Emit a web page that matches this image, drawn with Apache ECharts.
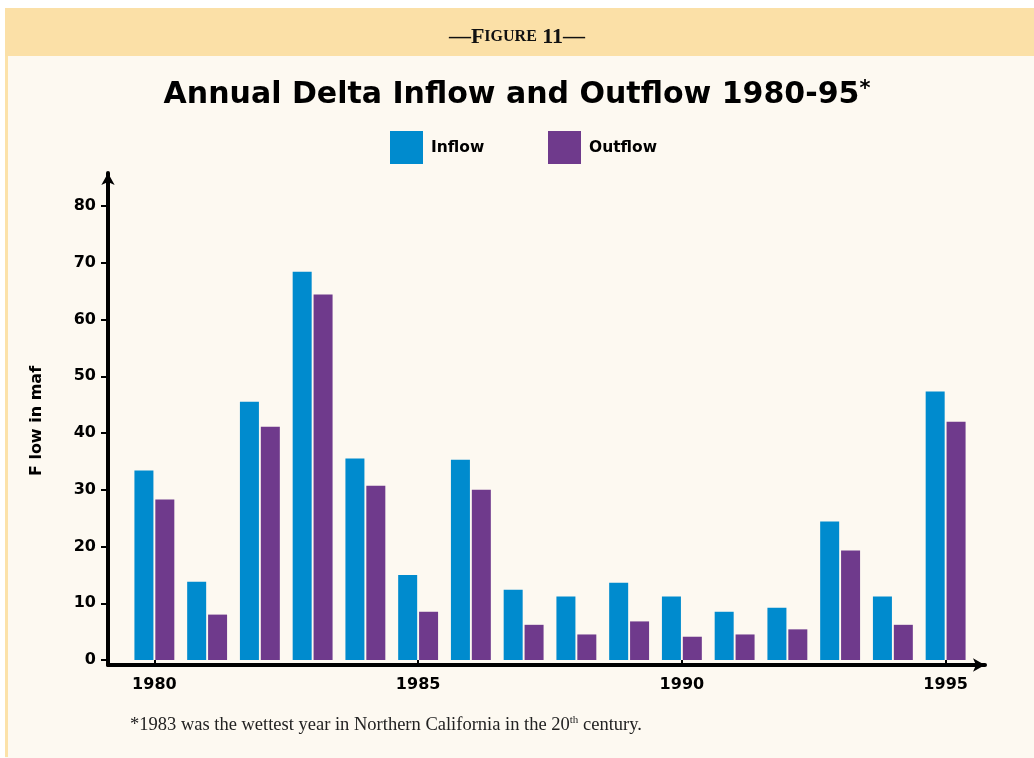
<!DOCTYPE html>
<html>
<head>
<meta charset="utf-8">
<title>Annual Delta Inflow and Outflow 1980-95</title>
<script src="https://cdn.jsdelivr.net/npm/echarts@6/dist/echarts.min.js"></script>
<style>
  html, body { margin: 0; padding: 0; background: #fff; }
  #main { width: 1034px; height: 758px; }
</style>
</head>
<body>
<div id="main"></div>
<script>
// data (million acre-feet)
const years = ['1980', '1981', '1982', '1983', '1984', '1985', '1986', '1987',
  '1988', '1989', '1990', '1991', '1992', '1993', '1994', '1995'];
const inflow = [33.4, 13.8, 45.5, 68.4, 35.5, 15.0, 35.3, 12.4,
  11.2, 13.6, 11.2, 8.5, 9.2, 24.4, 11.2, 47.3];
const outflow = [28.3, 8.0, 41.1, 64.4, 30.7, 8.5, 30.0, 6.2,
  4.5, 6.8, 4.1, 4.5, 5.4, 19.3, 6.2, 42.0];
const yMin = 0;
const yMax = 80;
const yStep = 10;

const BLUE = '#008bce';
const PURPLE = '#6f3a8c';
const HEAVY = '"DejaVu Sans", "Liberation Sans", sans-serif';
const SERIF = '"Liberation Serif", "DejaVu Serif", serif';

// 初始化
const myChart = echarts.init(document.getElementById('main'));

const legendText = { fontFamily: HEAVY, fontWeight: 'bold', fontSize: 15.5, color: '#000', padding: [0, 0, 0, 3] };

const option = {
  animation: false,
  backgroundColor: '#ffffff',
  graphic: [
    // panel background
    { type: 'rect', z: -10, shape: { x: 5, y: 8, width: 1029, height: 48 }, style: { fill: '#fbe0a7' } },
    { type: 'rect', z: -10, shape: { x: 5, y: 56, width: 1029, height: 702 }, style: { fill: '#fdf9f1' } },
    { type: 'rect', z: -9, shape: { x: 5, y: 56, width: 3, height: 701 }, style: { fill: '#fce2a9' } },
    // y axis name
    {
      type: 'text', x: 37, y: 421, rotation: Math.PI / 2,
      style: {
        text: 'F low in maf', fill: '#000', font: 'bold 16px ' + HEAVY,
        textAlign: 'center', textVerticalAlign: 'middle'
      }
    },
    // footnote
    {
      type: 'text', x: 130, y: 725,
      style: {
        text: '{n|*1983 was the wettest year in Northern California in the 20}{s|th}{n| century.}',
        textVerticalAlign: 'middle',
        rich: {
          n: { fontFamily: SERIF, fontSize: 18.5, fill: '#222', color: '#222' },
          s: { fontFamily: SERIF, fontSize: 11, fill: '#222', color: '#222', verticalAlign: 'top', padding: [0, 0, 9, 0] }
        }
      }
    }
  ],
  title: [
    {
      text: '{d|—}{b|F}{s|IGURE}{b| 11}{d|—}',
      left: 'center', top: 21,
      textStyle: {
        rich: {
          d: { fontFamily: SERIF, fontSize: 22, color: '#111' },
          b: { fontFamily: SERIF, fontSize: 22, color: '#111' },
          s: { fontFamily: SERIF, fontSize: 16, color: '#111' }
        }
      }
    },
    {
      text: '{t|Annual Delta Inflow and Outflow 1980-95}{a|*}',
      left: 'center', top: 74,
      textStyle: {
        rich: {
          t: { fontFamily: HEAVY, fontWeight: 'bold', fontSize: 30, color: '#000' },
          a: { fontFamily: HEAVY, fontSize: 21, color: '#000', verticalAlign: 'top', padding: [0, 0, 11, 0] }
        }
      }
    }
  ],
  legend: [
    {
      data: ['Inflow'], left: 385, top: 126, icon: 'rect',
      itemWidth: 33, itemHeight: 33, textStyle: legendText
    },
    {
      data: ['Outflow'], left: 543, top: 126, icon: 'rect',
      itemWidth: 33, itemHeight: 33, textStyle: legendText
    }
  ],
  grid: [
    // data grid
    { left: 128, right: 62, top: 206, bottom: 98 },
    // grid that only carries the arrowed axis lines
    { left: 108, right: 49, top: 173, bottom: 93 }
  ],
  xAxis: [
    {
      gridIndex: 0,
      type: 'category',
      data: years,
      offset: 5,
      axisLine: { show: false },
      axisTick: { show: true, alignWithLabel: true, interval: 4, length: 6, lineStyle: { color: '#000', width: 2 } },
      axisLabel: { interval: 4, margin: 12, color: '#000', fontFamily: HEAVY, fontWeight: 'bold', fontSize: 16 },
      splitLine: { show: false }
    },
    {
      gridIndex: 1,
      type: 'value', min: 0, max: 1,
      axisLine: { show: true, symbol: ['none', 'arrow'], symbolSize: [10, 12], lineStyle: { color: '#000', width: 4 } },
      axisTick: { show: false }, axisLabel: { show: false }, splitLine: { show: false }
    }
  ],
  yAxis: [
    {
      gridIndex: 0,
      type: 'value',
      min: yMin, max: yMax, interval: yStep,
      offset: 20,
      axisLine: { show: false },
      axisTick: { show: true, length: 7, lineStyle: { color: '#000', width: 2 } },
      axisLabel: { margin: 12, color: '#000', fontFamily: HEAVY, fontWeight: 'bold', fontSize: 16 },
      splitLine: { show: false }
    },
    {
      gridIndex: 1,
      type: 'value', min: 0, max: 1,
      axisLine: { show: true, symbol: ['none', 'arrow'], symbolSize: [10, 12], lineStyle: { color: '#000', width: 4 } },
      axisTick: { show: false }, axisLabel: { show: false }, splitLine: { show: false }
    }
  ],
  series: [
    {
      name: 'Inflow', type: 'bar', xAxisIndex: 0, yAxisIndex: 0,
      data: inflow, barWidth: 19, barGap: '10%',
      itemStyle: { color: BLUE }
    },
    {
      name: 'Outflow', type: 'bar', xAxisIndex: 0, yAxisIndex: 0,
      data: outflow, barWidth: 19, barGap: '10%',
      itemStyle: { color: PURPLE }
    }
  ]
};

myChart.setOption(option);
</script>
</body>
</html>
